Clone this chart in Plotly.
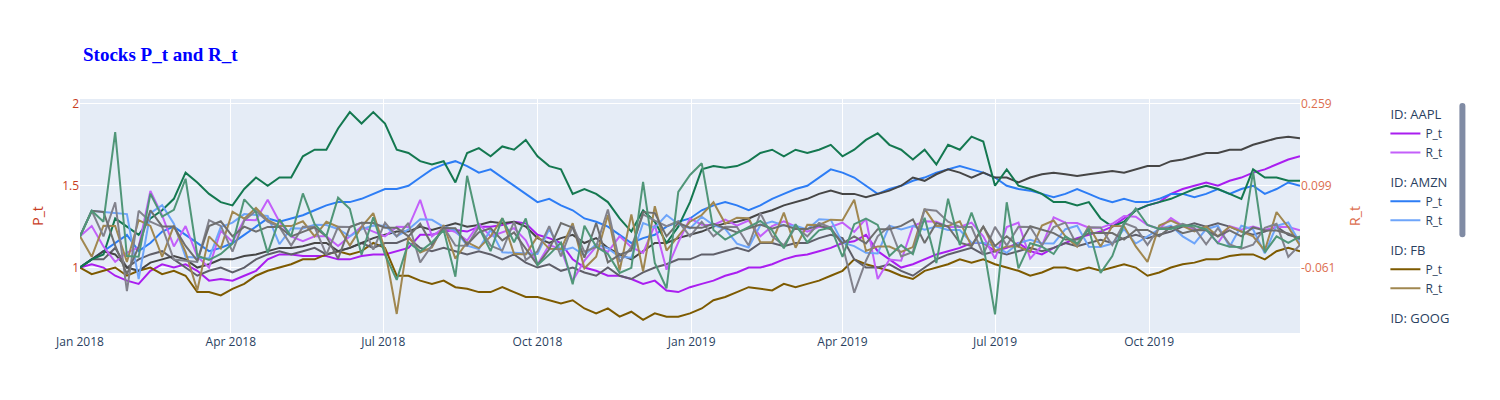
import pandas as pd
import plotly.graph_objects as go

# weekly normalised prices, 2018-01-01 .. 2019-12-30 (105 weeks)
AAPL = [1.00, 1.02, 1.00, 0.95, 0.92, 0.90, 0.98, 1.02, 1.00, 1.02, 0.98, 0.92, 0.93,
        0.92, 0.95, 0.98, 1.05, 1.08, 1.08, 1.07, 1.07, 1.07, 1.05, 1.05, 1.07, 1.08,
        1.08, 1.10, 1.12, 1.20, 1.20, 1.22, 1.23, 1.22, 1.25, 1.25, 1.26, 1.28, 1.27,
        1.20, 1.18, 1.15, 1.05, 1.00, 0.98, 0.95, 0.95, 0.93, 0.90, 0.92, 0.86, 0.85,
        0.88, 0.90, 0.92, 0.95, 0.97, 1.00, 1.00, 1.02, 1.05, 1.07, 1.08, 1.10, 1.12,
        1.15, 1.16, 1.20, 1.10, 1.05, 1.00, 1.02, 1.05, 1.08, 1.10, 1.12, 1.15, 1.15,
        1.10, 1.12, 1.15, 1.10, 1.08, 1.12, 1.15, 1.18, 1.20, 1.22, 1.25, 1.30, 1.35,
        1.38, 1.40, 1.45, 1.48, 1.50, 1.52, 1.50, 1.53, 1.55, 1.58, 1.60, 1.63, 1.66,
        1.68]
AMZN = [1.00, 1.05, 1.10, 1.15, 1.20, 1.10, 1.15, 1.22, 1.25, 1.20, 1.15, 1.10, 1.12,
        1.15, 1.20, 1.25, 1.30, 1.28, 1.30, 1.32, 1.35, 1.38, 1.40, 1.40, 1.42, 1.45,
        1.48, 1.48, 1.50, 1.55, 1.60, 1.63, 1.65, 1.62, 1.58, 1.60, 1.55, 1.50, 1.45,
        1.40, 1.42, 1.38, 1.35, 1.30, 1.28, 1.25, 1.20, 1.15, 1.18, 1.20, 1.25, 1.28,
        1.30, 1.35, 1.38, 1.40, 1.38, 1.35, 1.38, 1.42, 1.45, 1.48, 1.50, 1.55, 1.60,
        1.58, 1.55, 1.50, 1.45, 1.48, 1.50, 1.53, 1.55, 1.58, 1.60, 1.62, 1.60, 1.58,
        1.55, 1.50, 1.48, 1.47, 1.45, 1.43, 1.45, 1.48, 1.45, 1.42, 1.40, 1.42, 1.40,
        1.40, 1.42, 1.45, 1.45, 1.43, 1.45, 1.48, 1.45, 1.48, 1.50, 1.45, 1.48, 1.52,
        1.50]
FB = [1.00, 0.96, 0.98, 1.00, 0.95, 0.98, 1.00, 0.96, 0.98, 0.95, 0.85, 0.85, 0.83,
      0.87, 0.90, 0.95, 0.98, 1.00, 1.02, 1.05, 1.05, 1.08, 1.10, 1.08, 1.10, 1.15,
      1.12, 0.95, 0.95, 0.92, 0.90, 0.92, 0.88, 0.87, 0.85, 0.85, 0.88, 0.85, 0.82,
      0.82, 0.80, 0.78, 0.80, 0.75, 0.72, 0.75, 0.70, 0.73, 0.68, 0.72, 0.70, 0.70,
      0.72, 0.75, 0.80, 0.82, 0.85, 0.88, 0.87, 0.86, 0.90, 0.88, 0.90, 0.92, 0.95,
      0.98, 1.05, 1.02, 1.00, 0.98, 0.95, 0.93, 0.98, 1.00, 1.02, 1.05, 1.03, 1.05,
      1.02, 1.00, 0.98, 0.95, 0.97, 1.00, 1.00, 0.98, 1.00, 0.98, 1.00, 1.02, 1.00,
      0.95, 0.97, 1.00, 1.02, 1.03, 1.05, 1.05, 1.07, 1.08, 1.08, 1.05, 1.10, 1.12,
      1.10]
GOOG = [1.00, 1.05, 1.05, 1.12, 1.00, 1.05, 1.08, 1.10, 1.05, 1.00, 0.95, 0.98, 1.00,
        0.97, 1.00, 1.05, 1.08, 1.10, 1.08, 1.10, 1.12, 1.08, 1.10, 1.12, 1.15, 1.12,
        1.15, 1.15, 1.18, 1.12, 1.10, 1.12, 1.10, 1.08, 1.10, 1.08, 1.05, 1.08, 1.03,
        1.00, 1.02, 0.98, 1.00, 0.97, 0.95, 1.00, 0.95, 0.93, 0.97, 1.00, 1.02, 1.05,
        1.05, 1.08, 1.08, 1.10, 1.12, 1.10, 1.15, 1.15, 1.13, 1.15, 1.15, 1.18, 1.20,
        1.18, 1.05, 1.00, 1.00, 1.02, 0.98, 0.95, 1.00, 1.05, 1.08, 1.10, 1.12, 1.08,
        1.10, 1.08, 1.10, 1.12, 1.10, 1.12, 1.15, 1.13, 1.15, 1.17, 1.15, 1.18, 1.20,
        1.18, 1.20, 1.22, 1.25, 1.27, 1.25, 1.27, 1.25, 1.22, 1.20, 1.22, 1.25, 1.20,
        1.18]
MSFT = [1.00, 1.05, 1.10, 1.08, 1.00, 0.98, 1.03, 1.05, 1.07, 1.05, 1.00, 1.02, 1.05,
        1.05, 1.07, 1.08, 1.10, 1.12, 1.12, 1.13, 1.15, 1.15, 1.10, 1.12, 1.15, 1.18,
        1.20, 1.22, 1.22, 1.25, 1.23, 1.25, 1.27, 1.25, 1.26, 1.28, 1.27, 1.28, 1.25,
        1.18, 1.15, 1.18, 1.20, 1.15, 1.18, 1.12, 1.08, 1.05, 1.10, 1.15, 1.15, 1.18,
        1.20, 1.22, 1.25, 1.27, 1.28, 1.30, 1.33, 1.35, 1.38, 1.40, 1.42, 1.45, 1.47,
        1.45, 1.45, 1.43, 1.45, 1.47, 1.50, 1.55, 1.53, 1.57, 1.60, 1.58, 1.55, 1.58,
        1.55, 1.55, 1.52, 1.55, 1.57, 1.58, 1.57, 1.56, 1.57, 1.58, 1.59, 1.58, 1.60,
        1.62, 1.62, 1.65, 1.66, 1.68, 1.70, 1.70, 1.72, 1.72, 1.75, 1.77, 1.79, 1.80,
        1.79]
NFLX = [1.00, 1.05, 1.08, 1.30, 1.25, 1.20, 1.30, 1.35, 1.42, 1.58, 1.52, 1.45, 1.40,
        1.38, 1.48, 1.55, 1.50, 1.55, 1.55, 1.68, 1.72, 1.72, 1.85, 1.95, 1.88, 1.95,
        1.88, 1.72, 1.70, 1.65, 1.63, 1.65, 1.52, 1.70, 1.73, 1.68, 1.74, 1.72, 1.78,
        1.68, 1.62, 1.60, 1.45, 1.48, 1.45, 1.40, 1.30, 1.22, 1.35, 1.28, 1.15, 1.25,
        1.40, 1.60, 1.62, 1.61, 1.62, 1.65, 1.70, 1.72, 1.68, 1.72, 1.70, 1.72, 1.75,
        1.68, 1.72, 1.78, 1.82, 1.75, 1.72, 1.66, 1.72, 1.63, 1.75, 1.72, 1.80, 1.77,
        1.50, 1.60, 1.50, 1.48, 1.45, 1.40, 1.40, 1.38, 1.40, 1.30, 1.25, 1.28, 1.35,
        1.38, 1.40, 1.42, 1.45, 1.48, 1.50, 1.48, 1.45, 1.42, 1.60, 1.55, 1.55, 1.53,
        1.53]

TICKERS = ["AAPL", "AMZN", "FB", "GOOG", "MSFT", "NFLX"]
PRICES = [AAPL, AMZN, FB, GOOG, MSFT, NFLX]
P_COLORS = ["rgb(170,30,240)", "rgb(45,125,245)", "rgb(125,90,0)",
            "rgb(95,95,105)", "rgb(70,70,70)", "rgb(20,120,80)"]
R_COLORS = ["rgb(195,95,250)", "rgb(110,165,250)", "rgb(160,135,80)",
            "rgb(130,130,140)", "rgb(110,110,110)", "rgb(80,150,120)"]

dates = pd.date_range("2018-01-01", periods=len(AAPL), freq="7D")

fig = go.Figure()
for tk, p, pc, rc in zip(TICKERS, PRICES, P_COLORS, R_COLORS):
    s = pd.Series(p, index=dates)
    r = s.pct_change().fillna(0)
    fig.add_trace(go.Scatter(x=dates, y=s, mode="lines", name="P_t", line=dict(color=pc, width=2),
                             legendgroup=tk, legendgrouptitle_text="ID: " + tk))
    fig.add_trace(go.Scatter(x=dates, y=r, mode="lines", name="R_t", line=dict(color=rc, width=2),
                             legendgroup=tk, yaxis="y2"))

fig.update_layout(
    width=1500, height=400,
    margin=dict(l=72, r=208, t=91, b=75),
    title=dict(text="<b>Stocks P_t and R_t</b>", x=0.05, y=0.9,
               font=dict(family="Times New Roman, Liberation Serif, serif", size=19, color="blue")),
    plot_bgcolor="#E5ECF6",
    xaxis=dict(gridcolor="white", range=[dates[0], dates[-1]], tickformat="%b %Y"),
    yaxis=dict(title=dict(text="P_t", font=dict(color="rgb(200,60,30)")), range=[0.6, 2.03],
               tickvals=[1, 1.5, 2], tickfont=dict(color="rgb(200,60,30)"), gridcolor="white",
               zeroline=False),
    yaxis2=dict(title=dict(text="R_t", font=dict(color="rgb(220,110,80)")), overlaying="y",
                side="right", range=[-0.189, 0.2686], tickvals=[-0.061, 0.099, 0.259],
                ticktext=["-0.061", "0.099", "0.259"], tickfont=dict(color="rgb(220,110,80)"),
                showgrid=False, zeroline=False),
    legend=dict(x=1.07, y=1.0, tracegroupgap=10),
)

fig.write_html("out.html")
